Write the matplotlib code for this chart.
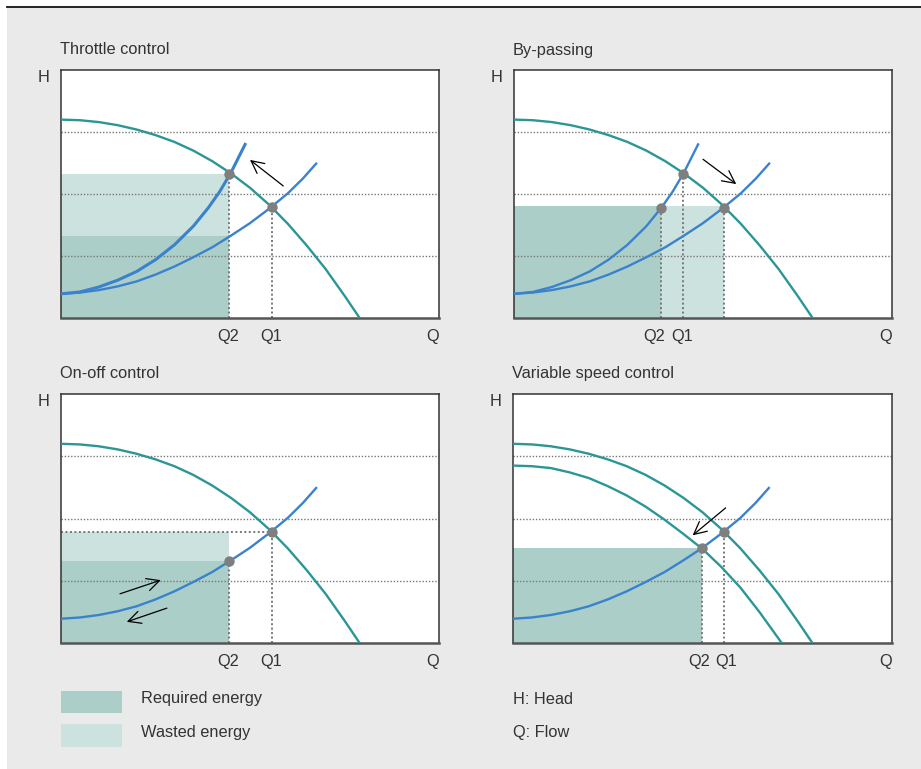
import matplotlib.pyplot as plt
from matplotlib.patches import Rectangle
from matplotlib.lines import Line2D

plt.rcParams['font.family'] = ['Liberation Sans', 'DejaVu Sans']

W, H = 921, 769

titles = ['Throttle control', 'By-passing', 'On-off control', 'Variable speed control']

# pump curve, full speed (Q, H)
pump_q = [0, 0.5, 1.0, 1.5, 2.0, 2.5, 3.0, 3.5, 4.0, 4.5, 5.0, 5.5, 6.0, 6.5, 7.0, 7.5, 7.9]
pump_h = [3.20, 3.19, 3.16, 3.11, 3.04, 2.95, 2.84, 2.70, 2.53, 2.33, 2.10, 1.83, 1.52, 1.17, 0.79, 0.36, 0.0]

# pump curve, reduced speed
pump_low_q = [0, 0.5, 1.0, 1.5, 2.0, 2.5, 3.0, 3.5, 4.0, 4.5, 5.0, 5.5, 6.0, 6.5, 7.09]
pump_low_h = [2.85, 2.84, 2.81, 2.74, 2.65, 2.52, 2.37, 2.19, 1.98, 1.75, 1.51, 1.22, 0.89, 0.50, 0.0]

# system curve
sys_q = [0, 0.5, 1.0, 1.5, 2.0, 2.5, 3.0, 3.5, 4.0, 4.5, 5.0, 5.5, 6.0, 6.4, 6.75]
sys_h = [0.39, 0.41, 0.45, 0.51, 0.59, 0.70, 0.83, 0.98, 1.14, 1.33, 1.53, 1.76, 2.01, 2.25, 2.49]

# system curve, throttled
sys_thr_q = [0, 0.5, 1.0, 1.5, 2.0, 2.5, 3.0, 3.5, 3.9, 4.2, 4.5, 4.87]
sys_thr_h = [0.39, 0.42, 0.50, 0.61, 0.75, 0.94, 1.18, 1.48, 1.78, 2.04, 2.35, 2.80]

# operating points per panel
points = [
    [(4.45, 2.33), (5.57, 1.79)],
    [(3.89, 1.78), (5.56, 1.78), (4.47, 2.32)],
    [(4.45, 1.31), (5.57, 1.79)],
    [(4.98, 1.52), (5.57, 1.79)],
]
# dotted drop lines per panel
drops = [
    [(4.45, 2.33), (5.57, 1.79)],
    [(3.89, 1.78), (4.47, 2.32), (5.56, 1.78)],
    [(4.45, 1.31), (5.57, 1.79)],
    [(4.98, 1.52), (5.57, 1.79)],
]
# energy areas: (q0, q1, h0, h1, kind)
areas = [
    [(0, 4.45, 0, 1.32, 'req'), (0, 4.45, 1.32, 2.33, 'waste')],
    [(0, 3.89, 0, 1.80, 'req'), (3.89, 5.56, 0, 1.80, 'waste')],
    [(0, 4.45, 0, 1.31, 'req'), (0, 4.45, 1.31, 1.78, 'waste')],
    [(0, 4.98, 0, 1.52, 'req')],
]
# arrows: (start, end)
arrows = [
    [((5.88, 2.13), (5.0, 2.55))],
    [((5.0, 2.56), (5.88, 2.16))],
    [((1.56, 0.79), (2.64, 1.01)), ((2.80, 0.56), (1.74, 0.34))],
    [((5.61, 2.17), (4.74, 1.73))],
]
q_labels = ['Q2', 'Q1', 'Q']
q_label_pos = [
    [4.43, 5.57, 9.82],
    [3.72, 4.45, 9.82],
    [4.42, 5.57, 9.82],
    [4.91, 5.63, 9.82],
]
grid_h = [1, 2, 3]

teal = '#2b9696'
blue = '#3b82cc'
req_col = '#abcfc8'
waste_col = '#cce2df'
txt = '#333333'
dotc = '#7f7f7f'
fs = 11.8


def fx(x):
    return x / W


def fy(y):
    return 1 - y / H


fig = plt.figure(figsize=(W / 100, H / 100), dpi=100, facecolor='white')
fig.patches.append(Rectangle((fx(7), 0), 1 - fx(7), fy(8), transform=fig.transFigure,
                             facecolor='#eaeaea', edgecolor='none', zorder=-5))
fig.lines.append(Line2D([fx(7), 1], [fy(7.3), fy(7.3)], transform=fig.transFigure,
                        color='#111111', lw=1.3, zorder=-4))

boxes = [(61, 70, 439, 318), (514, 70, 892, 318), (61, 394, 439, 643), (513, 394, 892, 643)]

for i, (x0, y0, x1, y1) in enumerate(boxes):
    ax = fig.add_axes([fx(x0), fy(y1), (x1 - x0) / W, (y1 - y0) / H])
    ax.set_xlim(0, 10)
    ax.set_ylim(0, 4)
    ax.set_xticks([])
    ax.set_yticks([])
    for s in ax.spines.values():
        s.set_color('#333333')
        s.set_linewidth(1.1)
    ax.spines['bottom'].set_color('#555555')
    ax.spines['bottom'].set_linewidth(1.8)

    for q0, q1, h0, h1, kind in areas[i]:
        ax.add_patch(Rectangle((q0, h0), q1 - q0, h1 - h0, zorder=1, lw=0,
                               facecolor=req_col if kind == 'req' else waste_col))

    for g in grid_h:
        ax.axhline(g, color='#777777', lw=1.0, ls=(0, (1, 1.3)), zorder=2)

    for q, h in drops[i]:
        ax.plot([q, q], [0, h], color='#777777', lw=1.4, ls=(0, (1, 1.3)), zorder=2)
    if i == 2:
        ax.plot([0, 5.57], [1.79, 1.79], color='#777777', lw=1.4, ls=(0, (1, 1.3)), zorder=2)

    ax.plot(pump_q, pump_h, color=teal, lw=1.7, zorder=3)
    if i == 3:
        ax.plot(pump_low_q, pump_low_h, color=teal, lw=1.7, zorder=3)
    ax.plot(sys_q, sys_h, color=blue, lw=1.7, zorder=3)
    if i < 2:
        ax.plot(sys_thr_q, sys_thr_h, color=blue, lw=2.2 if i == 0 else 1.7, zorder=3)

    pq = [p[0] for p in points[i]]
    ph = [p[1] for p in points[i]]
    ax.plot(pq, ph, 'o', color=dotc, ms=7.5, zorder=4, mec='none')

    for st, en in arrows[i]:
        ax.annotate('', xy=en, xytext=st,
                    arrowprops=dict(arrowstyle='->,head_length=0.5,head_width=0.25',
                                    color='black', lw=0.9,
                                    mutation_scale=18, shrinkA=0, shrinkB=0), zorder=5)

    for lab, q in zip(q_labels, q_label_pos[i]):
        ax.text(q, -18.7 / (y1 - y0), lab, transform=ax.get_xaxis_transform(),
                ha='center', va='center', fontsize=fs, color=txt)

    fig.text(fx(x0 - 1), fy(y0 - 20), titles[i], ha='left', va='center',
             fontsize=fs, color=txt)
    fig.text(fx(x0 - 17), fy(y0 + 7), 'H', ha='center', va='center',
             fontsize=fs, color=txt)

# legend
fig.patches.append(Rectangle((fx(61), fy(713)), fx(61), 22 / H, transform=fig.transFigure,
                             facecolor=req_col, edgecolor='none'))
fig.patches.append(Rectangle((fx(61), fy(747)), fx(61), 23 / H, transform=fig.transFigure,
                             facecolor=waste_col, edgecolor='none'))
fig.text(fx(141), fy(699), 'Required energy', ha='left', va='center', fontsize=fs, color=txt)
fig.text(fx(141), fy(732), 'Wasted energy', ha='left', va='center', fontsize=fs, color=txt)
fig.text(fx(513), fy(699), 'H: Head', ha='left', va='center', fontsize=fs, color=txt)
fig.text(fx(513), fy(732), 'Q: Flow', ha='left', va='center', fontsize=fs, color=txt)

fig.savefig('out.png', dpi=100, facecolor='white')
